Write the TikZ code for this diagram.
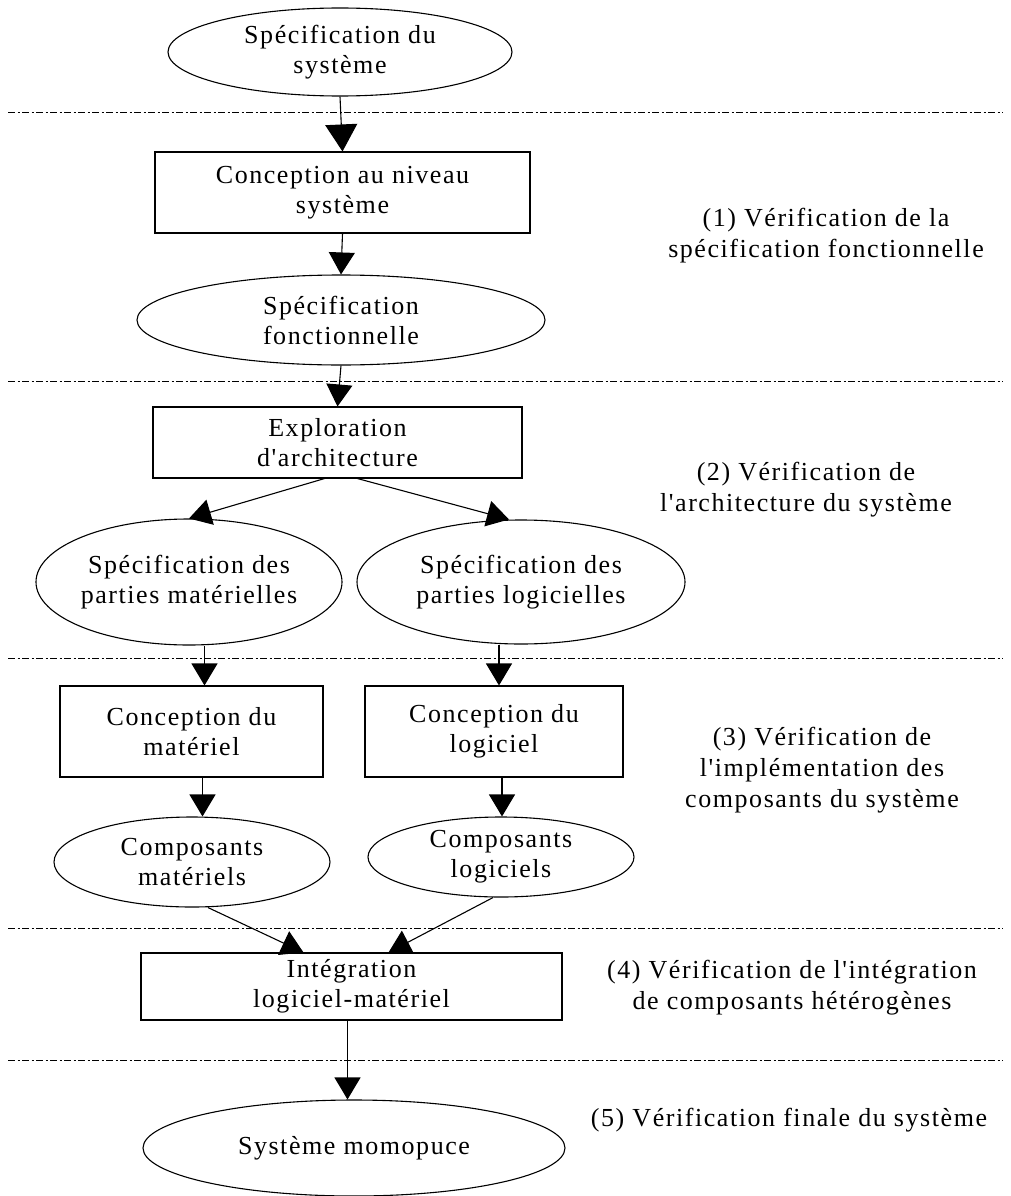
\documentclass[tikz,border=0pt]{standalone}
\usepackage{fontspec}
% plain family: straight apostrophes, slight tracking
\newfontfamily\diagfont{Liberation Serif}[LetterSpace=6]
\usetikzlibrary{arrows.meta,shapes.geometric,calc}
\begin{document}
\begin{tikzpicture}[x=1pt,y=-1pt,
  every node/.style={font=\diagfont\fontsize{26}{30}\selectfont, align=center, inner sep=0pt},
  box/.style={draw, line width=1.1pt, rectangle},
  oval/.style={draw, line width=1.1pt, ellipse},
  arr/.style={line width=1.1pt, -{Triangle[length=22pt,width=26pt]}},
  bigarr/.style={line width=1.1pt, -{Triangle[length=27pt,width=32pt]}},
  sep/.style={line width=0.8pt, dash pattern=on 7pt off 2.5pt on 2pt off 2.5pt},
  note/.style={font=\diagfont\fontsize{26}{31}\selectfont}]
\useasboundingbox (0,0) rectangle (1010,1196);

% separators between verification levels
\draw[sep] (8,112) -- (1003,112);
\draw[sep] (8,381) -- (1003,381);
\draw[sep] (8,658) -- (1003,658);
\draw[sep] (8,928) -- (1003,928);
\draw[sep] (8,1060) -- (1003,1060);

% flow nodes
\node[oval, minimum width=344pt, minimum height=88pt] (s1) at (340,52) {Spécification du\\système};
\node[box, minimum width=375pt, minimum height=81pt] (c1) at (342.5,192.5) {Conception au niveau\\système};
\node[oval, minimum width=408pt, minimum height=90pt] (s2) at (341,320) {Spécification\\fonctionnelle};
\node[box, minimum width=369pt, minimum height=71pt] (e1) at (337.5,442.5) {Exploration\\d'architecture};
\node[oval, minimum width=292pt, minimum height=126pt] (hws) at (189,582) {Spécification des\\parties matérielles};
\node[oval, minimum width=328pt, minimum height=124pt] (sws) at (521,582) {Spécification des\\parties logicielles};
\node[box, minimum width=263pt, minimum height=91pt] (chw) at (191.5,731.5) {Conception du\\matériel};
\node[box, minimum width=258pt, minimum height=91pt] (csw) at (494,731.5) {Conception du\\logiciel};
\node[oval, minimum width=276pt, minimum height=90pt] (hwc) at (192,862) {Composants\\matériels};
\node[oval, minimum width=266pt, minimum height=80pt] (swc) at (501,857) {Composants\\logiciels};
\node[box, minimum width=421pt, minimum height=67pt] (ig) at (351.5,986.5) {Intégration\\logiciel-matériel};
\node[oval, minimum width=422pt, minimum height=96pt] (fin) at (354,1148) {Système momopuce};

% verification level labels
\node[note] (l1) at (826,236) {(1) Vérification de la\\spécification fonctionnelle};
\node[note] (l2) at (806,490) {(2) Vérification de\\l'architecture du système};
\node[note] (l3) at (822,770) {(3) Vérification de\\l'implémentation des\\composants du système};
\node[note] (l4) at (792,988) {(4) Vérification de l'intégration\\de composants hétérogènes};
\node[note] (l5) at (789,1120) {(5) Vérification finale du système};

% connectors
\draw[bigarr] (s1.south) -- (c1.north);
\draw[arr] (c1.south) -- (s2.north);
\draw[arr] (s2.south) -- (e1.north);

\coordinate (eL) at ($(e1.south)+(-13,0)$);
\coordinate (eR) at ($(e1.south)+(20,0)$);
\coordinate (tR) at ($(sws.north)+(-12,0)$);
\draw[arr] (eL) -- (hws.north);
\draw[arr] (eR) -- (tR);

\coordinate (xa) at ($(chw.north)+(13,0)$);
\draw[arr] (xa |- hws.south) -- (xa);
\coordinate (xb) at ($(csw.north)+(5,0)$);
\draw[arr] (xb |- sws.south) -- (xb);
\coordinate (xc) at ($(chw.south)+(11,0)$);
\draw[arr] (xc) -- (xc |- hwc.north);
\coordinate (xd) at ($(csw.south)+(8,0)$);
\draw[arr] (xd) -- (xd |- swc.north);

\coordinate (hb) at ($(hwc.south)+(16,0)$);
\coordinate (sb) at ($(swc.south)+(-8,0)$);
\coordinate (iL) at ($(ig.north)+(-48,0)$);
\coordinate (iR) at ($(ig.north)+(37,0)$);
\draw[arr] (hb) -- (iL);
\draw[arr] (sb) -- (iR);

\coordinate (xe) at ($(ig.south)+(-4,0)$);
\draw[arr] (xe) -- (xe |- fin.north);
\end{tikzpicture}
\end{document}
